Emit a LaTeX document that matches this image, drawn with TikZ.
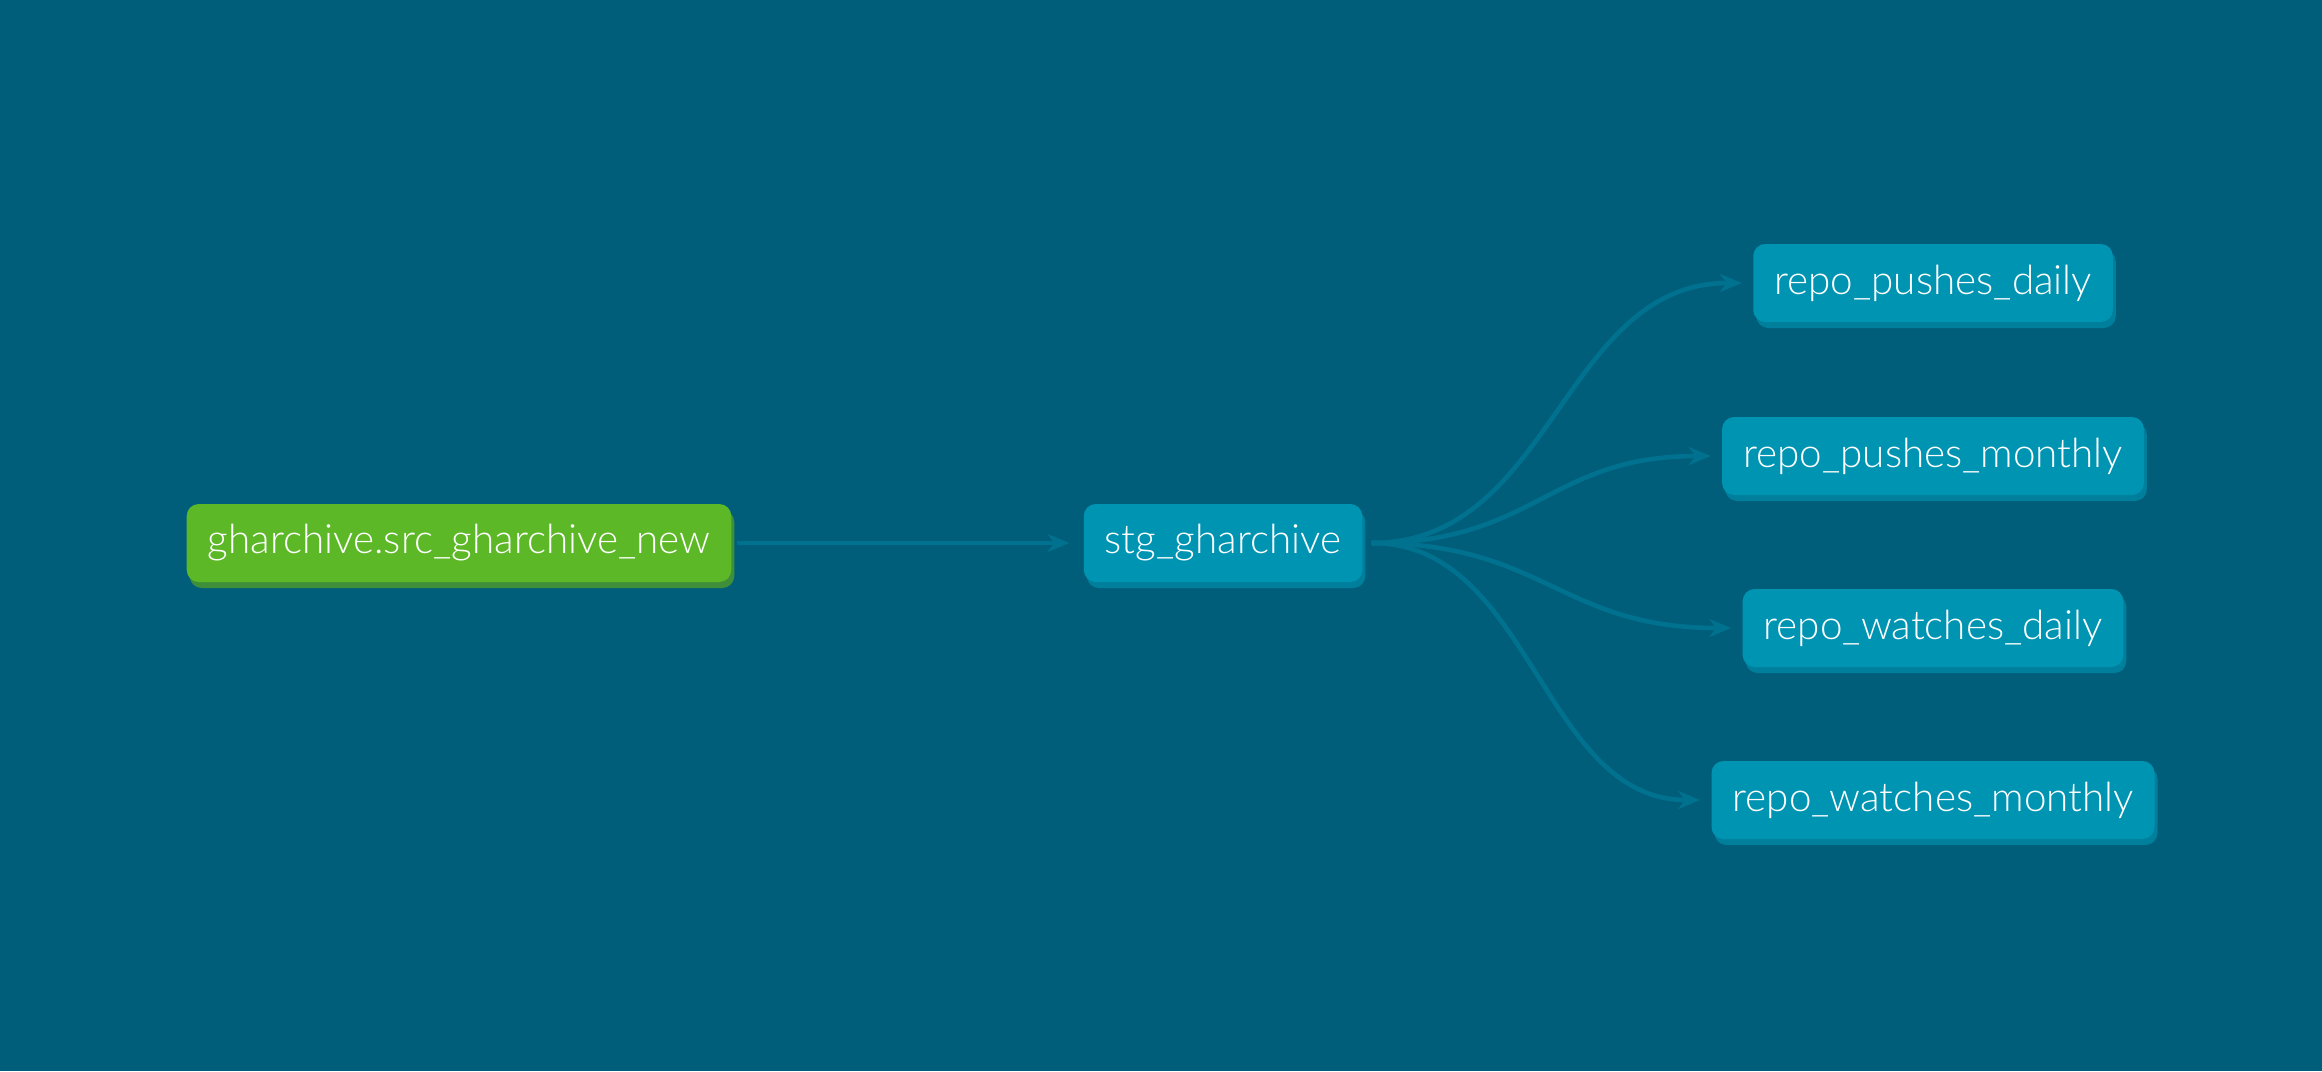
\documentclass[tikz,border=0pt]{standalone}
\usepackage{fontspec}
\setmainfont{Lato Light}
\usetikzlibrary{shadows,arrows.meta}

\definecolor{bg}{HTML}{005E7A}
\definecolor{model}{HTML}{0094B3}
\definecolor{modelshadow}{HTML}{007F9C}
\definecolor{source}{HTML}{5DB827}
\definecolor{sourceshadow}{HTML}{3F8F3A}
\definecolor{link}{HTML}{00718F}

\begin{document}
\begin{tikzpicture}
		[x=0.5pt,y=-0.5pt,
		 n/.style={rounded corners=6pt,minimum height=39pt,inner xsep=10.5pt,
			text=white,font=\fontsize{20.2}{24}\selectfont},
		 mdl/.style={n,fill=model,
			copy shadow={fill=modelshadow,draw=none,shadow xshift=1.5pt,shadow yshift=-3pt}},
		 src/.style={n,fill=source,
			copy shadow={fill=sourceshadow,draw=none,shadow xshift=1.5pt,shadow yshift=-3pt}},
		 e/.style={draw=link,line width=2.3pt,
			-{Stealth[length=11pt,width=9pt,inset=3.5pt]}}]

		\fill[bg] (0,0) rectangle (2322,1071);

		% sources and models
		\node[src] (gh) at (459,543) {gharchive.src\_gharchive\_new};
		\node[mdl] (stg) at (1223,543) {stg\_gharchive};

		% marts
		\node[mdl] (pd) at (1933,283) {repo\_pushes\_daily};
		\node[mdl] (pm) at (1933,456) {repo\_pushes\_monthly};
		\node[mdl] (wd) at (1933,628) {repo\_watches\_daily};
		\node[mdl] (wm) at (1933,800) {repo\_watches\_monthly};

		% lineage
		\draw[e,shorten <=2.5pt,shorten >=7pt] (gh.east) -- (stg.west);
		\draw[e,shorten <=4.5pt,shorten >=5.5pt] (stg.east) to[out=0,in=180,looseness=1.04] (pd.west);
		\draw[e,shorten <=4.5pt,shorten >=5.5pt] (stg.east) to[out=0,in=180,looseness=1.2] (pm.west);
		\draw[e,shorten <=4.5pt,shorten >=5.5pt] (stg.east) to[out=0,in=180,looseness=1.2] (wd.west);
		\draw[e,shorten <=4.5pt,shorten >=5.5pt] (stg.east) to[out=0,in=180,looseness=1.0] (wm.west);

	\end{tikzpicture}
\end{document}
